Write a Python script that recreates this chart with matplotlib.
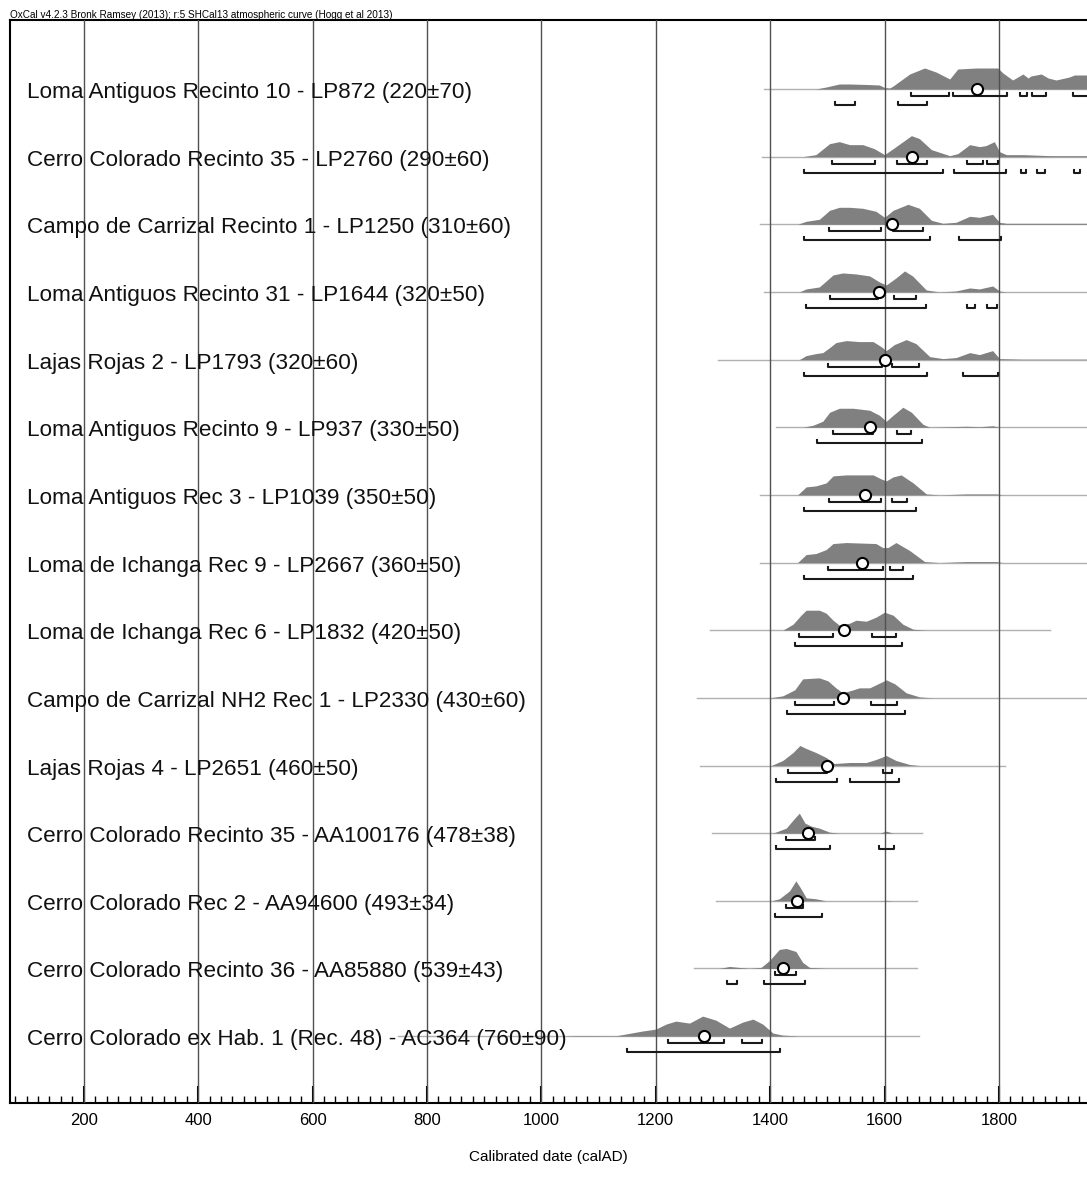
import matplotlib.pyplot as plt
from matplotlib.ticker import MultipleLocator

plt.rcParams['font.family'] = ['Liberation Sans', 'DejaVu Sans']

# Etiquetas de cada muestra (de arriba hacia abajo)
etiquetas = [
    "Loma Antiguos Recinto 10 - LP872 (220±70)",
    "Cerro Colorado Recinto 35 - LP2760 (290±60)",
    "Campo de Carrizal Recinto 1 - LP1250 (310±60)",
    "Loma Antiguos Recinto 31 - LP1644 (320±50)",
    "Lajas Rojas 2 - LP1793 (320±60)",
    "Loma Antiguos Recinto 9 - LP937 (330±50)",
    "Loma Antiguos Rec 3 - LP1039 (350±50)",
    "Loma de Ichanga Rec 9 - LP2667 (360±50)",
    "Loma de Ichanga Rec 6 - LP1832 (420±50)",
    "Campo de Carrizal NH2 Rec 1 - LP2330 (430±60)",
    "Lajas Rojas 4 - LP2651 (460±50)",
    "Cerro Colorado Recinto 35 - AA100176 (478±38)",
    "Cerro Colorado Rec 2 - AA94600 (493±34)",
    "Cerro Colorado Recinto 36 - AA85880 (539±43)",
    "Cerro Colorado ex Hab. 1 (Rec. 48) - AC364 (760±90)",
]

# Medias (calAD)
medias = [1762, 1648, 1613, 1591, 1600, 1575, 1565, 1561, 1530, 1527, 1499, 1466, 1447, 1423, 1284]

# Curvas de probabilidad: años y alturas relativas (máximo ~21)
anios = [
    [1390, 1480, 1498, 1521, 1539, 1570, 1591, 1600, 1609, 1615, 1644, 1670, 1690, 1714, 1728, 1760, 1798, 1807, 1824, 1842, 1851, 1856, 1874, 1886, 1900, 1923, 1932, 1955],
    [1385, 1457, 1480, 1504, 1521, 1539, 1562, 1582, 1600, 1620, 1647, 1661, 1682, 1714, 1728, 1749, 1766, 1777, 1792, 1801, 1813, 1842, 1889, 1955],
    [1382, 1448, 1463, 1486, 1504, 1521, 1539, 1562, 1585, 1600, 1615, 1641, 1661, 1682, 1702, 1725, 1749, 1766, 1789, 1801, 1813, 1871, 1955],
    [1390, 1451, 1463, 1486, 1510, 1527, 1550, 1574, 1591, 1603, 1620, 1635, 1649, 1673, 1696, 1725, 1749, 1766, 1789, 1801, 1813, 1955],
    [1309, 1451, 1463, 1480, 1492, 1504, 1515, 1533, 1556, 1580, 1594, 1603, 1617, 1638, 1655, 1679, 1702, 1725, 1749, 1766, 1789, 1801, 1840, 1955],
    [1411, 1457, 1475, 1492, 1504, 1521, 1545, 1574, 1591, 1603, 1615, 1632, 1647, 1667, 1679, 1743, 1766, 1789, 1801, 1955],
    [1382, 1448, 1463, 1480, 1498, 1510, 1533, 1580, 1594, 1603, 1615, 1629, 1650, 1673, 1696, 1743, 1795, 1807, 1955],
    [1382, 1448, 1463, 1480, 1498, 1510, 1533, 1585, 1597, 1606, 1620, 1644, 1670, 1696, 1743, 1795, 1807, 1955],
    [1295, 1422, 1440, 1454, 1463, 1486, 1498, 1510, 1521, 1539, 1550, 1568, 1585, 1600, 1615, 1632, 1650, 1673, 1890],
    [1272, 1399, 1422, 1443, 1457, 1486, 1501, 1515, 1527, 1545, 1556, 1574, 1603, 1618, 1638, 1661, 1684, 1955],
    [1277, 1402, 1422, 1440, 1452, 1463, 1480, 1498, 1512, 1539, 1568, 1585, 1603, 1620, 1644, 1661, 1810],
    [1298, 1405, 1428, 1443, 1451, 1461, 1472, 1486, 1504, 1521, 1591, 1603, 1615, 1666],
    [1306, 1402, 1416, 1434, 1445, 1454, 1463, 1480, 1498, 1591, 1603, 1614, 1656],
    [1267, 1311, 1329, 1346, 1364, 1384, 1399, 1416, 1428, 1445, 1457, 1469, 1498, 1656],
    [750, 1042, 1060, 1077, 1130, 1147, 1176, 1200, 1218, 1235, 1259, 1282, 1305, 1329, 1352, 1370, 1387, 1405, 1422, 1452, 1660],
]
alturas = [
    [0, 0, 2, 5, 5, 4.5, 4, 1.5, 1, 3, 15, 21, 17, 10, 20, 21, 21, 16, 9, 15, 11, 13, 15, 11, 9, 12, 14, 14],
    [0, 0, 2, 13, 15, 12, 12, 8, 2, 10, 21, 18, 7, 1, 3, 12, 10, 11, 15, 5, 2, 2, 1, 1],
    [0, 0, 3, 5, 14, 17, 17, 16, 13, 7, 14, 20, 16, 4, 1, 2, 8, 7, 10, 2, 1, 1, 1],
    [0, 0, 3, 5, 17, 19, 18, 16, 10, 7, 14, 21, 16, 2, 0, 1, 4, 3, 6, 1, 0, 0],
    [0, 0, 4, 6, 7, 12, 17, 19, 18, 18, 13, 9, 15, 20, 16, 3, 1, 2, 7, 5, 9, 1, 0.5, 0.5],
    [0, 0, 2, 6, 15, 19, 19, 17, 12, 6, 12, 20, 15, 3, 0, 1, 0.5, 1.5, 0, 0],
    [0, 0, 8, 9, 12, 19, 20, 20, 16, 14, 18, 20, 12, 1, 0, 1, 1, 0, 0],
    [0, 0, 8, 9, 13, 19, 20, 19, 15, 15, 20, 12, 1, 0, 1, 1, 0, 0],
    [0, 0, 6, 15, 20, 20, 17, 10, 5, 7, 10, 9, 13, 18, 15, 6, 1, 0, 0],
    [0, 0, 2, 8, 19, 20, 17, 10, 5, 8, 10, 10, 18, 14, 5, 1, 0, 0],
    [0, 0, 5, 13, 20, 17, 13, 8, 2, 3, 3, 6, 10, 5, 1, 0, 0],
    [0, 0, 5, 15, 20, 10, 7, 5, 1, 0, 0, 2, 0, 0],
    [0, 0, 2, 10, 20, 12, 3, 2, 0, 0, 0.5, 0, 0],
    [0, 0, 2, 1, 0, 1, 8, 19, 20, 17, 6, 1, 0, 0],
    [0, 0, 0.5, 0.5, 0.3, 2, 5, 7, 12, 15, 13, 20, 16, 8, 14, 17, 12, 3, 1, 0, 0],
]

# Rangos 68.2% y 95.4%
rangos_68 = [
    [(1647, 1712), (1719, 1814), (1836, 1849), (1857, 1882), (1929, 1960)],
    [(1509, 1583), (1621, 1674), (1744, 1772), (1779, 1798)],
    [(1503, 1593), (1614, 1667)],
    [(1505, 1588), (1617, 1655)],
    [(1502, 1595), (1613, 1661)],
    [(1510, 1580), (1622, 1647)],
    [(1503, 1594), (1613, 1639)],
    [(1501, 1598), (1610, 1632)],
    [(1450, 1510), (1578, 1620)],
    [(1443, 1511), (1577, 1621)],
    [(1432, 1499), (1597, 1613)],
    [(1428, 1479)],
    [(1427, 1458)],
    [(1408, 1445)],
    [(1222, 1320), (1350, 1386)],
]
rangos_95 = [
    [(1513, 1548), (1623, 1674)],
    [(1460, 1702), (1721, 1812), (1838, 1847), (1866, 1880), (1932, 1941)],
    [(1459, 1680), (1731, 1803)],
    [(1463, 1673), (1744, 1759), (1779, 1797)],
    [(1459, 1675), (1738, 1799)],
    [(1482, 1665)],
    [(1460, 1655)],
    [(1459, 1649)],
    [(1443, 1631)],
    [(1430, 1635)],
    [(1410, 1517), (1540, 1626)],
    [(1410, 1504), (1591, 1616)],
    [(1408, 1491)],
    [(1325, 1342), (1389, 1461)],
    [(1149, 1418)],
]

PX = 1 / 67.65  # un pixel en unidades de fila

fig = plt.figure(figsize=(10.87, 11.77), dpi=100)
ax = fig.add_axes([10 / 1087, 1 - 1103 / 1177, 1077 / 1087, 1083 / 1177])
ax.set_xlim(71, 1954)
ax.set_ylim((1103 - 89) * PX, (20 - 89) * PX)

# Lineas verticales cada 200 años
for x in range(200, 1955, 200):
    ax.axvline(x, color='#505050', lw=1, zorder=3)

for i in range(len(etiquetas)):
    yrs = anios[i]
    hs = [h * PX for h in alturas[i]]
    ax.plot([yrs[0], yrs[-1]], [i, i], color='#b0b0b0', lw=1, zorder=1)
    ax.fill_between(yrs, i, [i - h for h in hs], color='#808080', lw=0, zorder=2)
    for (a, b) in rangos_68[i]:
        yb = i + 7 * PX
        ax.plot([a, a, b, b], [yb - 3 * PX, yb, yb, yb - 3 * PX], color='#1a1a1a', lw=1.5, zorder=4)
    for (a, b) in rangos_95[i]:
        yb = i + 16 * PX
        ax.plot([a, a, b, b], [yb - 3 * PX, yb, yb, yb - 3 * PX], color='#1a1a1a', lw=1.5, zorder=4)
    ax.plot(medias[i], i, 'o', ms=8, mfc='white', mec='black', mew=1.5, zorder=5)
    ax.text(17 / 1077, i + 9 * PX, etiquetas[i], transform=ax.get_yaxis_transform(),
            fontsize=16.2, va='baseline', ha='left', color='#111111', zorder=6)

ax.set_xticks(range(200, 1955, 200))
ax.xaxis.set_minor_locator(MultipleLocator(20))
ax.tick_params(axis='x', which='major', direction='in', length=12, width=1.5, labelsize=12, pad=7)
ax.tick_params(axis='x', which='minor', direction='in', length=5, width=1)
ax.set_yticks([])
for lado in ['left', 'top', 'bottom']:
    ax.spines[lado].set_linewidth(1.5)
ax.spines['right'].set_visible(False)

ax.set_xlabel("Calibrated date (calAD)", fontsize=11, labelpad=16)
fig.text(10 / 1087, 1 - 18 / 1177, "OxCal v4.2.3 Bronk Ramsey (2013); r:5 SHCal13 atmospheric curve (Hogg et al 2013)",
         fontsize=7.2, va='baseline', ha='left')

fig.savefig('out.png', dpi=100)
